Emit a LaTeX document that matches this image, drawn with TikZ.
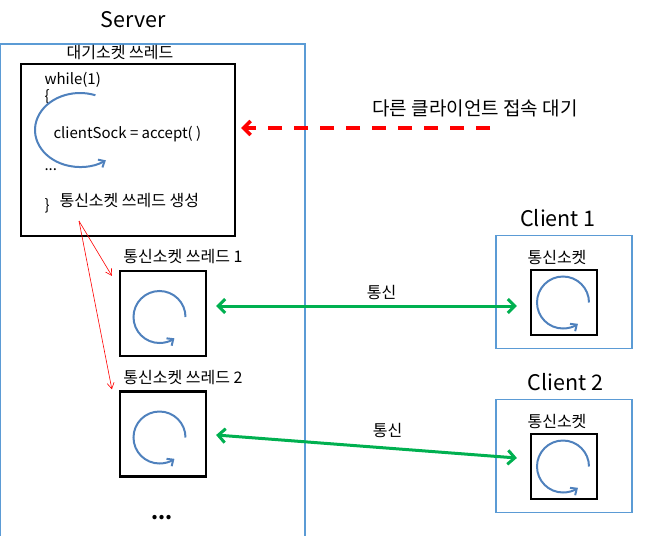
\documentclass[tikz,border=0pt]{standalone}
\usepackage{fontspec}
\setmainfont{Noto Sans CJK KR}
\usetikzlibrary{arrows.meta}
\definecolor{frameblue}{RGB}{91,155,213}
\definecolor{loopblue}{RGB}{79,129,189}
\definecolor{commgreen}{RGB}{0,176,80}
\begin{document}
\begin{tikzpicture}[x=1pt,y=-1pt,
        frame/.style={draw=frameblue,line width=1.2pt},
        sockbox/.style={draw=black,line width=2.2pt,inner sep=0pt},
        lbl/.style={font=\fontsize{16}{18}\selectfont},
        code/.style={font=\fontsize{15}{17}\selectfont,anchor=west},
        title/.style={font=\fontsize{21.5}{25}\selectfont},
        turn/.style={draw=loopblue,line width=2pt,-{Straight Barb[length=5pt,width=9pt]}},
        comm/.style={draw=commgreen,line width=3pt,{Straight Barb[length=7pt,width=14pt]}-{Straight Barb[length=7pt,width=14pt]}},
        spawn/.style={draw=red,line width=0.6pt,-{Straight Barb[length=6pt,width=7pt]}}]
        \useasboundingbox (0,0) rectangle (654,536);

        % server side
        \node[title] (server) at (133,20) {Server};
        \draw[frame] (0.6,545) -- (0.6,44) -- (305,44) -- (305,545);

        \node[sockbox,minimum width=214pt,minimum height=172pt] (wait) at (128,150) {};
        \node[lbl] (waitlbl) at (120,53) {대기소켓 쓰레드};
        \node[code] (wh) at (41,80) {while(1)};
        \node[code] (ob) at (41,97) {\{};
        \node[code] (acc) at (50,134) {clientSock = accept( )};
        \node[code] (dots) at (41,170) {...};
        \node[code] (cb) at (41,206) {\}};
        \node[lbl,anchor=west] (gen) at (56,201) {통신소켓 쓰레드 생성};
        \draw[turn] (80,130) ++(70:45pt and 37pt) arc[start angle=70,end angle=305,x radius=45pt,y radius=37pt];

        \foreach \i/\y in {1/313.5,2/434}
        {
            \node[sockbox,minimum width=86pt,minimum height=85pt] (t\i) at (163,\y) {};
            \node[lbl] (t\i lbl) at (183,\y-56.5) {통신소켓 쓰레드 \i};
        }
        \node[font=\fontsize{20}{24}\selectfont\bfseries] (more) at (162,518) {...};

        % clients
        \foreach \i/\y/\tx in {1/292/558,2/456/565.5}
        {
            \node[frame,minimum width=136pt,minimum height=113pt] (c\i) at (564,\y) {};
            \node[title] (c\i lbl) at (\tx,\y-74) {Client \i};
            \node[sockbox,minimum width=66pt,minimum height=65pt] (s\i) at (564,\y+10.5) {};
            \node[lbl] (s\i lbl) at (557,\y-35) {통신소켓};
        }

        \foreach \b/\dx/\dy in {t1/-3.5/3.5,t2/-3.5/3.5,s1/-1/0,s2/-1/0}
            \draw[turn] ([shift={(\dx,\dy)}]\b.center) ++(0:26pt) arc[start angle=0,delta angle=305,radius=26pt];

        % connections
        \coordinate (spawnpt) at (79,221);
        \draw[spawn] (spawnpt) -- ([shift={(-7,6)}]t1.north west);
        \draw[spawn] (spawnpt) -- ([shift={(-7,-1)}]t2.north west);

        \coordinate (req) at (490,128);
        \draw[red,line width=3.5pt,dash pattern=on 14pt off 12pt,-{Straight Barb[length=7pt,width=14pt]}] (req) -- ([shift={(5,-22)}]wait.east);
        \node[font=\fontsize{19}{21}\selectfont] (reqlbl) at (475,108) {다른 클라이언트 접속 대기};

        \draw[comm] ([shift={(9,-7.5)}]t1.east) -- node[lbl,pos=0.55,above=1pt] (talk1) {통신} ([shift={(-13,3.5)}]s1.west);
        \draw[comm] ([shift={(9,1)}]t2.east) -- node[lbl,pos=0.57,above=6pt] (talk2) {통신} ([shift={(-13,-8.5)}]s2.west);
    \end{tikzpicture}
\end{document}
